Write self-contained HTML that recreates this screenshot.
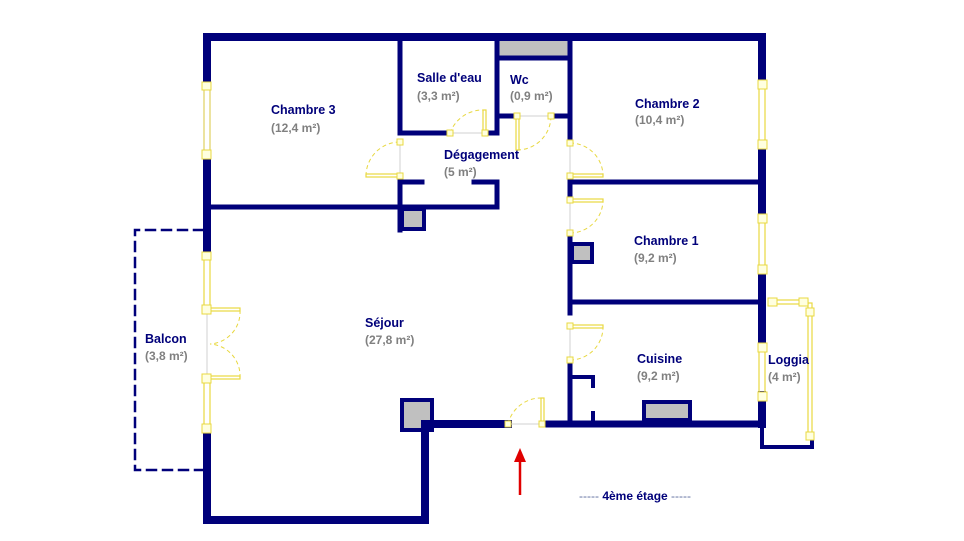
<!DOCTYPE html>
<html><head><meta charset="utf-8"><style>
html,body{margin:0;padding:0;background:#fff;}
svg{display:block;}
.n{font-family:"Liberation Sans",sans-serif;font-weight:bold;font-size:12.5px;fill:#00007a;}
.a{font-family:"Liberation Sans",sans-serif;font-weight:bold;font-size:12px;fill:#808080;}
</style></head><body>
<svg width="964" height="541" viewBox="0 0 964 541" xmlns="http://www.w3.org/2000/svg">
<g fill="#c0c0c0" stroke="#00007a" stroke-width="4">
<rect x="499" y="40" width="69" height="17" stroke="none"/>
<rect x="402" y="209" width="22" height="20"/>
<rect x="402" y="400" width="30" height="30"/>
<rect x="572" y="244" width="20" height="18"/>
<rect x="644" y="402" width="46" height="18"/>
</g>
<g stroke="#00007a" fill="none" stroke-linecap="square">
<!-- outer -->
<path d="M207 86 V37 H762 V85" stroke-width="8"/>
<path d="M207 155 V255" stroke-width="8"/>
<path d="M207 430 V520 H425 V424 H508" stroke-width="8"/>
<path d="M545 424 H762" stroke-width="7"/>
<path d="M762 145 V218" stroke-width="8"/>
<path d="M762 270 V347" stroke-width="8"/>
<path d="M762 395 V424" stroke-width="8"/>
<path d="M762 424 V447 H812 V440" stroke-width="4"/>
<!-- interior -->
<path d="M207 207 H497 V182 H474" stroke-width="5"/>
<path d="M400 37 V133 H450" stroke-width="5"/>
<path d="M400 180 V230" stroke-width="5"/>
<path d="M400 182 H422" stroke-width="5"/>
<path d="M486 133 H497 V37" stroke-width="5"/>
<path d="M497 58 H570" stroke-width="5"/>
<path d="M497 116 H516" stroke-width="5"/>
<path d="M552 116 H570" stroke-width="5"/>
<path d="M570 37 V142" stroke-width="5"/>
<path d="M570 178 V194" stroke-width="5"/>
<path d="M570 182 H762" stroke-width="5"/>
<path d="M570 238 V313" stroke-width="5"/>
<path d="M570 302 H762" stroke-width="5"/>
<path d="M570 365 V424" stroke-width="5"/>
<path d="M570 377 H593 V386" stroke-width="4"/>
<path d="M593 413 V420" stroke-width="4"/>
<!-- balcony dashed -->
<path d="M203 230 H135 V470 H203" stroke-width="2.5" stroke-dasharray="9,7"/>
</g>
<!-- door openings thin lines -->
<g stroke="#d0d0d0" stroke-width="1">
<line x1="400" y1="142" x2="400" y2="176"/>
<line x1="450" y1="133" x2="485" y2="133"/>
<line x1="517" y1="116" x2="551" y2="116"/>
<line x1="570" y1="143" x2="570" y2="176"/>
<line x1="570" y1="200" x2="570" y2="233"/>
<line x1="570" y1="326" x2="570" y2="360"/>
<line x1="508" y1="424" x2="545" y2="424"/>
<line x1="207" y1="310" x2="207" y2="378"/>
</g>
<!-- yellow -->
<g stroke="#e8d840" fill="none" stroke-width="1.2">
<rect x="204" y="86" width="6" height="69" stroke="#e0d060"/>
<rect x="204" y="255" width="6" height="55"/>
<rect x="204" y="378" width="6" height="52"/>
<rect x="759" y="85" width="6" height="60"/>
<rect x="759" y="218" width="6" height="52"/>
<rect x="759" y="347" width="6" height="48"/>
<rect x="808" y="303" width="4" height="135"/>
<rect x="770" y="300" width="38" height="4"/>
<rect x="366" y="174" width="34" height="3"/>
<rect x="483" y="110" width="3" height="23"/>
<rect x="516" y="116" width="3" height="34"/>
<rect x="570" y="174" width="33" height="3"/>
<rect x="570" y="199" width="33" height="3"/>
<rect x="570" y="325" width="33" height="3"/>
<rect x="541" y="398" width="3" height="26"/>
<rect x="210" y="308" width="30" height="3"/>
<rect x="210" y="376" width="30" height="3"/>
</g>
<g stroke="#e8d840" fill="none" stroke-width="1" stroke-dasharray="4,3">
<path d="M366 176 A34 34 0 0 1 400 142"/>
<path d="M450 133 A35 35 0 0 1 484 110"/>
<path d="M517 150 A34 34 0 0 0 551 116"/>
<path d="M570 143 A33 33 0 0 1 603 176"/>
<path d="M570 233 A33 33 0 0 0 603 200"/>
<path d="M570 360 A33 33 0 0 0 603 326"/>
<path d="M508 424 A34 34 0 0 1 542 398"/>
<path d="M240 310 A32 32 0 0 1 210 344"/>
<path d="M240 378 A32 32 0 0 0 210 344"/>
</g>
<g fill="#ffffe0" stroke="#e8d840" stroke-width="1">
<rect x="202" y="82" width="9" height="8"/><rect x="202" y="150" width="9" height="9"/>
<rect x="202" y="252" width="9" height="8"/><rect x="202" y="305" width="9" height="9"/>
<rect x="202" y="374" width="9" height="9"/><rect x="202" y="424" width="9" height="9"/>
<rect x="758" y="80" width="9" height="9"/><rect x="758" y="140" width="9" height="9"/>
<rect x="758" y="214" width="9" height="9"/><rect x="758" y="265" width="9" height="9"/>
<rect x="758" y="343" width="9" height="9"/><rect x="758" y="392" width="9" height="9"/>
<rect x="768" y="298" width="9" height="8"/><rect x="799" y="298" width="9" height="8"/>
<rect x="806" y="308" width="8" height="8"/><rect x="806" y="432" width="8" height="8"/>
<rect x="397" y="139" width="6" height="6"/><rect x="397" y="173" width="6" height="6"/>
<rect x="447" y="130" width="6" height="6"/><rect x="482" y="130" width="6" height="6"/>
<rect x="514" y="113" width="6" height="6"/><rect x="548" y="113" width="6" height="6"/>
<rect x="567" y="140" width="6" height="6"/><rect x="567" y="173" width="6" height="6"/>
<rect x="567" y="197" width="6" height="6"/><rect x="567" y="230" width="6" height="6"/>
<rect x="567" y="323" width="6" height="6"/><rect x="567" y="357" width="6" height="6"/>
<rect x="505" y="421" width="6" height="6"/><rect x="539" y="421" width="6" height="6"/>
</g>
<!-- arrow -->
<line x1="520" y1="495" x2="520" y2="460" stroke="#e00000" stroke-width="2.5"/>
<polygon points="520,448 514,462 526,462" fill="#e00000"/>
<!-- labels -->
<text class="n" x="271" y="114">Chambre 3</text><text class="a" x="271" y="132">(12,4 m²)</text>
<text class="n" x="417" y="82">Salle d'eau</text><text class="a" x="417" y="100">(3,3 m²)</text>
<text class="n" x="510" y="84">Wc</text><text class="a" x="510" y="100">(0,9 m²)</text>
<text class="n" x="635" y="108">Chambre 2</text><text class="a" x="635" y="124">(10,4 m²)</text>
<text class="n" x="444" y="159">Dégagement</text><text class="a" x="444" y="176">(5 m²)</text>
<text class="n" x="634" y="245">Chambre 1</text><text class="a" x="634" y="262">(9,2 m²)</text>
<text class="n" x="365" y="327">Séjour</text><text class="a" x="365" y="344">(27,8 m²)</text>
<text class="n" x="145" y="343">Balcon</text><text class="a" x="145" y="360">(3,8 m²)</text>
<text class="n" x="637" y="363">Cuisine</text><text class="a" x="637" y="380">(9,2 m²)</text>
<text class="n" x="768" y="364">Loggia</text><text class="a" x="768" y="381">(4 m²)</text>
<text x="579" y="500" font-family="Liberation Sans,sans-serif" font-size="12" fill="#00007a"><tspan fill="#6070a0">-----</tspan> <tspan font-weight="bold">4ème étage</tspan> <tspan fill="#6070a0">-----</tspan></text>
</svg>
</body></html>
